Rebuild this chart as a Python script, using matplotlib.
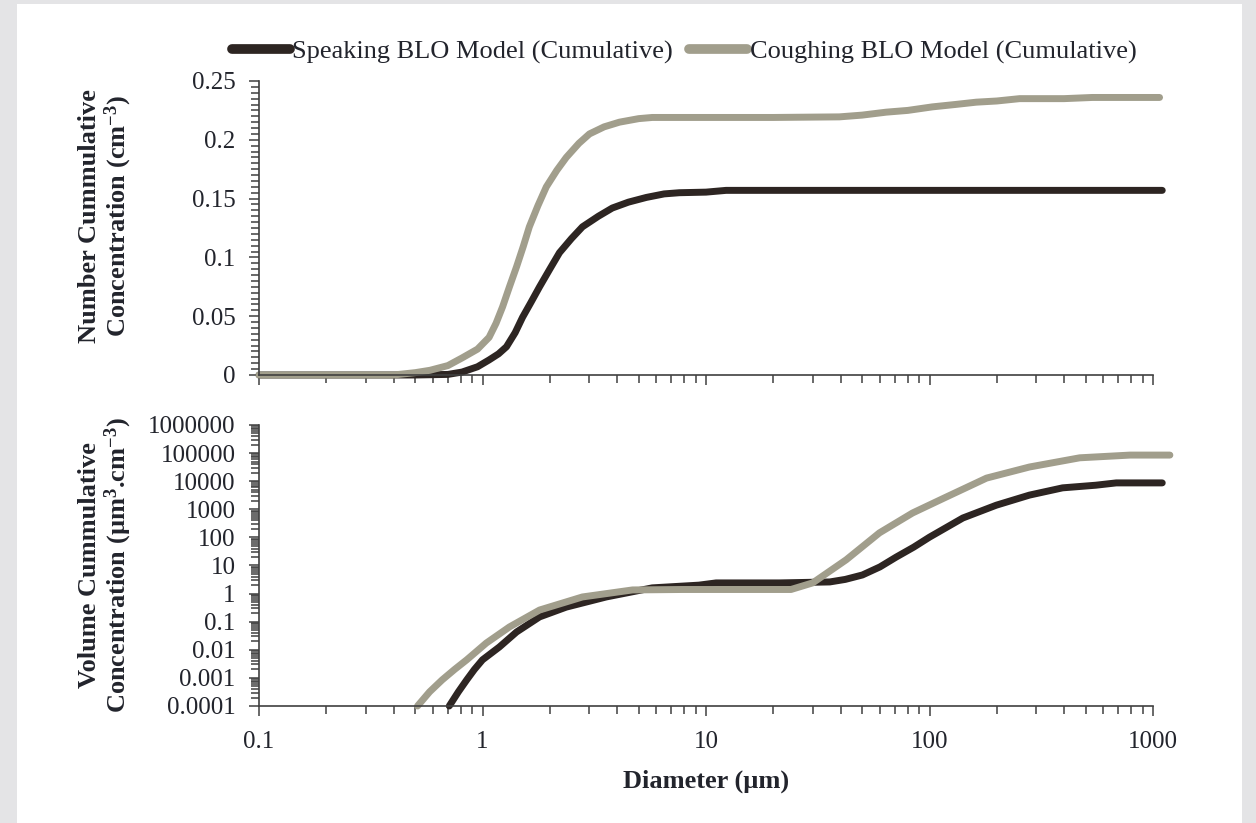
import matplotlib
matplotlib.use('Agg')
import matplotlib.pyplot as plt
from matplotlib.lines import Line2D
from matplotlib.patches import Rectangle
from matplotlib.ticker import FixedLocator, FuncFormatter, LogLocator, NullFormatter, MultipleLocator

plt.rcParams['font.family'] = ['Liberation Serif', 'DejaVu Serif']
plt.rcParams['mathtext.default'] = 'regular'

# number cumulative concentration (cm-3) vs diameter (um)
speak_num_d = [0.1, 0.5, 0.7, 0.81, 0.95, 1.07, 1.18, 1.28, 1.4, 1.51, 1.65, 1.80, 2.0, 2.21,
               2.5, 2.80, 3.3, 3.81, 4.5, 5.41, 6.5, 7.6, 10, 12.3, 20, 100, 1100]
speak_num = [0, 0, 0.0005, 0.0025, 0.007, 0.0128, 0.018, 0.024, 0.036, 0.049, 0.062, 0.075, 0.090,
             0.104, 0.116, 0.126, 0.135, 0.142, 0.147, 0.151, 0.154, 0.155, 0.1555, 0.157, 0.157,
             0.157, 0.157]
cough_num_d = [0.1, 0.4, 0.5, 0.582, 0.7, 0.81, 0.95, 1.07, 1.15, 1.23, 1.32, 1.42, 1.52, 1.62,
               1.77, 1.93, 2.15, 2.37, 2.7, 3.01, 3.5, 4.1, 5.0, 5.75, 9.3, 20, 39.5, 50, 64, 80,
               103, 130, 162, 200, 253, 400, 535, 800, 1070]
cough_num = [0, 0, 0.002, 0.004, 0.008, 0.0145, 0.022, 0.032, 0.044, 0.058, 0.075, 0.092, 0.109,
             0.126, 0.144, 0.160, 0.174, 0.185, 0.197, 0.205, 0.211, 0.215, 0.218, 0.219, 0.219,
             0.219, 0.2195, 0.221, 0.2235, 0.225, 0.228, 0.230, 0.232, 0.233, 0.235, 0.235, 0.236,
             0.236, 0.236]

# volume cumulative concentration (um3.cm-3) vs diameter (um)
speak_vol_d = [0.71, 0.78, 0.85, 0.92, 1.0, 1.19, 1.42, 1.80, 2.37, 3.58, 5.75, 9.3, 11.1, 21.3,
               35.8, 42, 50.1, 60, 71, 85, 100, 141, 199, 280, 394, 555, 685, 1100]
speak_vol = [1e-4, 3.2e-4, 8.5e-4, 2.0e-3, 4.4e-3, 0.0126, 0.043, 0.148, 0.33, 0.76, 1.6, 2.0,
             2.4, 2.4, 2.6, 3.2, 4.6, 8.9, 20, 45, 102, 490, 1400, 3200, 5800, 7200, 8700, 8700]
cough_vol_d = [0.512, 0.58, 0.66, 0.75, 0.85, 1.04, 1.32, 1.80, 2.80, 4.69, 7.8, 18.6, 24, 30,
               42.4, 59.7, 84, 119, 180, 280, 470, 790, 1190]
cough_vol = [1e-4, 3.2e-4, 8.5e-4, 2.0e-3, 4.4e-3, 0.0174, 0.065, 0.26, 0.76, 1.35, 1.4, 1.4, 1.4,
             2.4, 16, 145, 740, 2750, 12900, 32000, 68000, 85000, 85000]

vol_ticks = [1e-4, 1e-3, 1e-2, 0.1, 1, 10, 100, 1000, 1e4, 1e5, 1e6]
x_ticks = [0.1, 1, 10, 100, 1000]
series_names = ['Speaking BLO Model (Cumulative)', 'Coughing BLO Model (Cumulative)']

speak_color = '#2d2522'
cough_color = '#a19e8c'
axis_color = '#404040'
text_color = '#22242c'
lw = 5.0

fig = plt.figure(figsize=(12.56, 8.23), dpi=100, facecolor='#e4e4e6')
fig.patches.append(Rectangle((17 / 1256, 0), (1242 - 17) / 1256, 1 - 4 / 823,
                             transform=fig.transFigure, facecolor='white',
                             edgecolor='none', zorder=-10))

ax1 = fig.add_axes([259 / 1256, 1 - 375 / 823, 894 / 1256, 294 / 823])
ax2 = fig.add_axes([259 / 1256, 1 - 706 / 823, 894 / 1256, 281 / 823])

for ax in (ax1, ax2):
    ax.set_facecolor('none')
    ax.set_xscale('log')
    ax.set_xlim(0.1, 1000)
    for s in ('top', 'right'):
        ax.spines[s].set_visible(False)
    for s in ('left', 'bottom'):
        ax.spines[s].set_color(axis_color)
        ax.spines[s].set_linewidth(1.2)
    ax.xaxis.set_major_locator(FixedLocator(x_ticks))
    ax.xaxis.set_minor_locator(LogLocator(base=10, subs=range(2, 10)))
    ax.xaxis.set_minor_formatter(NullFormatter())
    ax.tick_params(which='both', direction='out', color=axis_color, width=1.1,
                   labelsize=18, labelcolor=text_color)
    ax.tick_params(which='major', length=7)
    ax.tick_params(which='minor', length=6)
    ax.tick_params(axis='x', pad=11)
    ax.tick_params(axis='y', pad=10)

# top panel
ax1.plot(speak_num_d, speak_num, color=speak_color, lw=lw, clip_on=False,
         solid_capstyle='round')
ax1.plot(cough_num_d, cough_num, color=cough_color, lw=lw, clip_on=False,
         solid_capstyle='round')
ax1.set_ylim(0, 0.25)
ax1.yaxis.set_major_locator(MultipleLocator(0.05))
ax1.yaxis.set_minor_locator(MultipleLocator(0.005))
ax1.yaxis.set_major_formatter(FuncFormatter(lambda v, p: '%g' % round(v, 3)))
ax1.xaxis.set_major_formatter(NullFormatter())
ax1.set_ylabel('Number Cummulative\nConcentration (cm$^{-3}$)', fontsize=19,
               fontweight='bold', color=text_color, linespacing=1.05)
ax1.yaxis.set_label_coords(-0.140, 0.54)

# bottom panel
ax2.plot(speak_vol_d, speak_vol, color=speak_color, lw=lw, clip_on=False,
         solid_capstyle='round')
ax2.plot(cough_vol_d, cough_vol, color=cough_color, lw=lw, clip_on=False,
         solid_capstyle='round')
ax2.set_yscale('log')
ax2.set_ylim(1e-4, 1e6)
ax2.yaxis.set_major_locator(FixedLocator(vol_ticks))
ax2.yaxis.set_minor_locator(LogLocator(base=10, subs=range(2, 10), numticks=20))
ax2.yaxis.set_minor_formatter(NullFormatter())
ax2.yaxis.set_major_formatter(FuncFormatter(lambda v, p: '%g' % v if v < 1e5 else '%d' % round(v)))
ax2.xaxis.set_major_formatter(FuncFormatter(lambda v, p: '%g' % v))
ax2.set_ylabel('Volume Cummulative\nConcentration (\u00b5m$^{3}$.cm$^{-3}$)', fontsize=19,
               fontweight='bold', color=text_color, linespacing=1.05)
ax2.yaxis.set_label_coords(-0.140, 0.5)
ax2.set_xlabel('Diameter (\u00b5m)', fontsize=19, fontweight='bold', color=text_color,
               labelpad=12)

handles = [Line2D([], [], color=speak_color, lw=7, solid_capstyle='round'),
           Line2D([], [], color=cough_color, lw=7, solid_capstyle='round')]
fig.legend(handles=handles, labels=series_names, loc='center',
           bbox_to_anchor=(684 / 1256, 1 - 52 / 823), ncol=2, frameon=False, fontsize=19,
           handlelength=2.2, handletextpad=0.1, columnspacing=0.6, borderpad=0,
           labelcolor=text_color)

fig.savefig('out.png', dpi=100, facecolor=fig.get_facecolor())
